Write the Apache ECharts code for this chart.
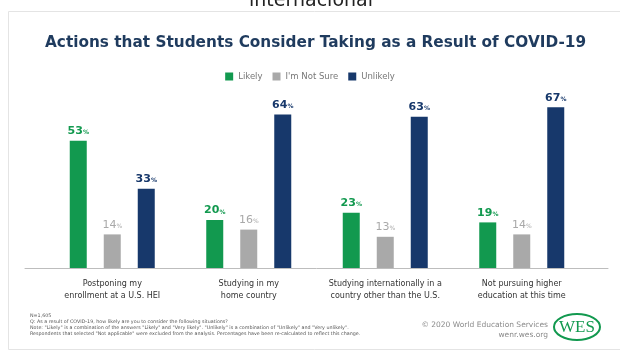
<!DOCTYPE html>
<html>
<head>
<meta charset="utf-8">
<script src="https://cdn.jsdelivr.net/npm/echarts@6/dist/echarts.min.js"></script>
<style>
  html, body { margin: 0; padding: 0; background: #ffffff; }
  #chart { width: 620px; height: 353px; }
</style>
</head>
<body>
<div id="chart"></div>
<script>
// Survey results: share of students per action and answer
const categories = [
  'Postponing my\nenrollment at a U.S. HEI',
  'Studying in my\nhome country',
  'Studying internationally in a\ncountry other than the U.S.',
  'Not pursuing higher\neducation at this time'
];
const likely = [53, 20, 23, 19];
const notSure = [14, 16, 13, 14];
const unlikely = [33, 64, 63, 67];
const seriesNames = ['Likely', "I'm Not Sure", 'Unlikely'];

const GREEN = '#12994f';
const GRAY = '#a9a9a9';
const NAVY = '#17386b';
const FONT = 'DejaVu Sans';

const chart = echarts.init(document.getElementById('chart'), null, { renderer: 'canvas' });

function valueLabel(color, bold) {
  return {
    show: true,
    position: 'top',
    distance: 4,
    formatter: p => '{n|' + p.value + '}{p|%}',
    rich: {
      n: { fontFamily: FONT, fontSize: 11, fontWeight: bold ? 'bold' : 'normal', color: color },
      p: { fontFamily: FONT, fontSize: 6, fontWeight: bold ? 'bold' : 'normal', color: color, padding: [3, 0, 0, 0] }
    }
  };
}

function barSeries(name, data, color, bold) {
  return {
    name: name,
    type: 'bar',
    data: data,
    barWidth: 17,
    barGap: '100%',
    itemStyle: { color: color },
    label: valueLabel(color, bold),
    xAxisIndex: 0,
    yAxisIndex: 0
  };
}

const footnote = [
  'N=1,605',
  'Q: As a result of COVID-19, how likely are you to consider the following situations?',
  'Note: "Likely" is a combination of the answers "Likely" and "Very likely". "Unlikely" is a combination of "Unlikely" and "Very unlikely".',
  'Respondents that selected "Not applicable" were excluded from the analysis. Percentages have been re-calculated to reflect this change.'
].join('\n');

chart.setOption({
  backgroundColor: '#ffffff',
  animation: false,
  title: {
    text: 'Actions that Students Consider Taking as a Result of COVID-19',
    left: 40,
    top: 31,
    textStyle: { fontFamily: FONT, fontSize: 15.3, fontWeight: 'bold', color: '#1f3b5e' }
  },
  legend: {
    data: seriesNames,
    top: 67,
    left: 'center',
    itemWidth: 8,
    itemHeight: 8,
    itemGap: 10,
    icon: 'rect',
    textStyle: { fontFamily: FONT, fontSize: 8.5, color: '#777' }
  },
  grid: [
    { left: 44, right: 30, top: 100, bottom: 85 },
    { left: 25, right: 12, top: 100, bottom: 85 }
  ],
  xAxis: [
    {
      type: 'category',
      gridIndex: 0,
      data: categories,
      axisLine: { show: false },
      axisTick: { show: false },
      axisLabel: {
        interval: 0,
        margin: 10,
        fontFamily: FONT,
        fontSize: 8,
        lineHeight: 12,
        color: '#333'
      }
    },
    {
      type: 'category',
      gridIndex: 1,
      data: [''],
      axisLine: { show: true, lineStyle: { color: '#bdbdbd', width: 1 } },
      axisTick: { show: false },
      axisLabel: { show: false }
    }
  ],
  yAxis: [
    { type: 'value', gridIndex: 0, min: 0, max: 70, show: false },
    { type: 'value', gridIndex: 1, min: 0, max: 70, show: false }
  ],
  series: [
    barSeries(seriesNames[0], likely, GREEN, true),
    barSeries(seriesNames[1], notSure, GRAY, false),
    barSeries(seriesNames[2], unlikely, NAVY, true)
  ],
  graphic: [
    {
      type: 'rect',
      z: -10,
      shape: { x: 8.5, y: 11.5, width: 620, height: 338 },
      style: { fill: '#ffffff', stroke: '#e4e4e4', lineWidth: 1 }
    },
    {
      type: 'text',
      x: 311,
      y: -8,
      style: {
        text: 'internacional',
        fontFamily: FONT,
        fontSize: 19,
        fill: '#222',
        align: 'center',
        verticalAlign: 'top'
      }
    },
    {
      type: 'text',
      x: 30,
      y: 313,
      style: {
        text: footnote,
        fontFamily: FONT,
        fontSize: 4.8,
        lineHeight: 5.8,
        fill: '#555'
      }
    },
    {
      type: 'text',
      x: 548,
      y: 320,
      style: {
        text: '\u00a9 2020 World Education Services\nwenr.wes.org',
        fontFamily: FONT,
        fontSize: 7.5,
        lineHeight: 10,
        fill: '#8a8a8a',
        align: 'right'
      }
    },
    {
      type: 'ellipse',
      shape: { cx: 577, cy: 327, rx: 23, ry: 13 },
      style: { fill: 'none', stroke: GREEN, lineWidth: 2 }
    },
    {
      type: 'text',
      x: 577,
      y: 328,
      style: {
        text: 'WES',
        fontFamily: 'Liberation Serif',
        fontSize: 17,
        fill: GREEN,
        align: 'center',
        verticalAlign: 'middle'
      }
    }
  ]
});
</script>
</body>
</html>
